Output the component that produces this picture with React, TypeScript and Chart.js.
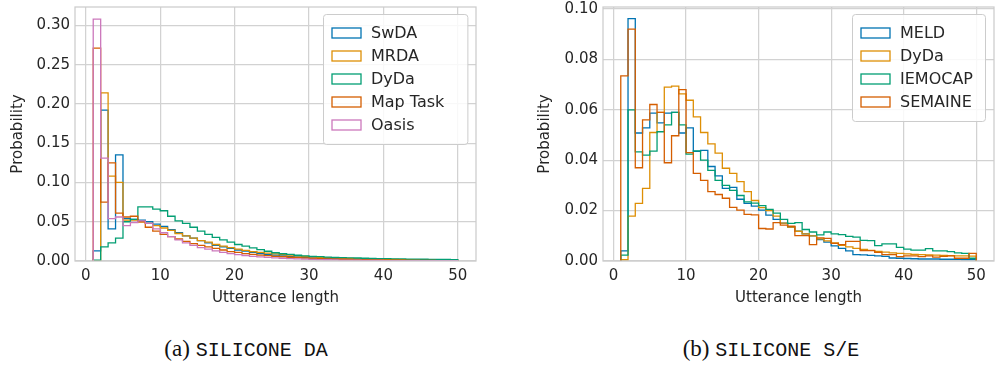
import React, { useEffect, useRef } from "react";
import { Chart, registerables } from "chart.js";

Chart.register(...registerables);

// ---------- data ----------
const binStarts = [
  1, 2, 3, 4, 5, 6, 7, 8, 9, 10, 11, 12, 13, 14, 15, 16, 17, 18, 19, 20, 21, 22, 23, 24, 25,
  26, 27, 28, 29, 30, 31, 32, 33, 34, 35, 36, 37, 38, 39, 40, 41, 42, 43, 44, 45, 46, 47, 48, 49,
];
const binWidth = 1;

const xTicks = [0, 10, 20, 30, 40, 50];

// (a) SILICONE DA
const daLabels = ["SwDA", "MRDA", "DyDa", "Map Task", "Oasis"];
const swda = [
  0.013, 0.192, 0.041, 0.135, 0.054, 0.053, 0.052, 0.05, 0.047, 0.044, 0.04, 0.036, 0.032, 0.029,
  0.026, 0.023, 0.02, 0.018, 0.016, 0.014, 0.0125, 0.011, 0.0095, 0.0085, 0.0075, 0.0066, 0.0058,
  0.0052, 0.0046, 0.0041, 0.0037, 0.0033, 0.003, 0.0027, 0.0024, 0.0022, 0.002, 0.0018, 0.0016,
  0.0015, 0.0014, 0.0013, 0.0012, 0.0011, 0.001, 0.0009, 0.0008, 0.0008, 0.0007,
];
const mrda = [
  0.0005, 0.214, 0.108, 0.1, 0.052, 0.052, 0.05, 0.048, 0.045, 0.042, 0.039, 0.035, 0.032, 0.029,
  0.026, 0.024, 0.021, 0.019, 0.017, 0.015, 0.0135, 0.012, 0.011, 0.01, 0.009, 0.0082, 0.0074,
  0.0066, 0.006, 0.0054, 0.0048, 0.0044, 0.004, 0.0036, 0.0033, 0.003, 0.0027, 0.0025, 0.0023,
  0.0021, 0.0019, 0.0018, 0.0016, 0.0015, 0.0014, 0.0013, 0.0012, 0.0011, 0.001,
];
const dydaDA = [
  0.001, 0.018, 0.023, 0.029, 0.05, 0.053, 0.069, 0.069, 0.066, 0.064, 0.057, 0.051, 0.048, 0.043,
  0.038, 0.034, 0.03, 0.027, 0.024, 0.021, 0.019, 0.0167, 0.0145, 0.0124, 0.0105, 0.0092, 0.0085,
  0.0073, 0.0065, 0.006, 0.0055, 0.005, 0.0047, 0.0043, 0.004, 0.0038, 0.0035, 0.0032, 0.003,
  0.003, 0.0028, 0.0027, 0.0025, 0.0024, 0.0022, 0.0021, 0.002, 0.0019, 0.0018,
];
const mapTask = [
  0.271, 0.075, 0.125, 0.061, 0.056, 0.057, 0.05, 0.043, 0.038, 0.034, 0.031, 0.028, 0.025, 0.022,
  0.02, 0.018, 0.016, 0.014, 0.012, 0.011, 0.0095, 0.0085, 0.0076, 0.0068, 0.006, 0.0054, 0.0048,
  0.0043, 0.0038, 0.0034, 0.003, 0.0027, 0.0024, 0.0022, 0.002, 0.0018, 0.0016, 0.0014, 0.0013,
  0.0012, 0.0011, 0.001, 0.0009, 0.0008, 0.0008, 0.0007, 0.0006, 0.0006, 0.0005,
];
const oasis = [
  0.308, 0.131, 0.054, 0.056, 0.045, 0.049, 0.051, 0.048, 0.041, 0.036, 0.031, 0.027, 0.023, 0.02,
  0.017, 0.015, 0.013, 0.011, 0.0095, 0.008, 0.007, 0.006, 0.0052, 0.0045, 0.004, 0.0035, 0.003,
  0.0026, 0.0023, 0.002, 0.0018, 0.0016, 0.0014, 0.0012, 0.0011, 0.001, 0.0009, 0.0008, 0.0007,
  0.0006, 0.0006, 0.0005, 0.0005, 0.0004, 0.0004, 0.0004, 0.0003, 0.0003, 0.0003,
];
const daTicksY = [0, 0.05, 0.1, 0.15, 0.2, 0.25, 0.3];

// (b) SILICONE S/E
const seLabels = ["MELD", "DyDa", "IEMOCAP", "SEMAINE"];
const meld = [
  0.004, 0.0962, 0.0508, 0.0528, 0.0587, 0.0548, 0.0587, 0.059, 0.0508, 0.0528, 0.0435, 0.0439,
  0.0375, 0.0338, 0.0288, 0.0292, 0.0245, 0.0229, 0.0218, 0.0202, 0.0182, 0.0165, 0.015, 0.0135,
  0.0118, 0.0108, 0.01, 0.0085, 0.0075, 0.006, 0.005, 0.004, 0.0025, 0.0024, 0.0022, 0.002, 0.0018,
  0.0012, 0.0011, 0.001, 0.0009, 0.0008, 0.0008, 0.0008, 0.0007, 0.0007, 0.0007, 0.0006, 0.0006,
];
const dydaSE = [
  0.0005, 0.0178, 0.0229, 0.0288, 0.051, 0.059, 0.069, 0.0694, 0.0663, 0.0638, 0.0572, 0.051,
  0.0465, 0.0428, 0.0368, 0.0348, 0.0315, 0.0275, 0.024, 0.0212, 0.02, 0.0178, 0.015, 0.0135,
  0.0118, 0.0108, 0.01, 0.0088, 0.008, 0.0072, 0.0062, 0.0056, 0.005, 0.0046, 0.0042, 0.0038,
  0.0035, 0.0032, 0.003, 0.0028, 0.0026, 0.0025, 0.0024, 0.0023, 0.0022, 0.0021, 0.002, 0.002,
  0.0019,
];
const iemocap = [
  0.0023, 0.06, 0.0433, 0.042, 0.0436, 0.0513, 0.054, 0.059, 0.054, 0.0424, 0.0437, 0.04, 0.036,
  0.032, 0.03, 0.028, 0.026, 0.0235, 0.023, 0.022, 0.0205, 0.019, 0.0165, 0.0149, 0.0152, 0.0125,
  0.0115, 0.0104, 0.0115, 0.0108, 0.0105, 0.0098, 0.0095, 0.0082, 0.0081, 0.0061, 0.0068, 0.0068,
  0.0054, 0.0047, 0.0043, 0.0043, 0.0049, 0.004, 0.004, 0.0037, 0.0032, 0.003, 0.0011,
];
const semaine = [
  0.0735, 0.092, 0.037, 0.056, 0.0621, 0.059, 0.039, 0.0497, 0.068, 0.043, 0.0348, 0.032, 0.0275,
  0.0264, 0.0249, 0.0213, 0.0202, 0.0185, 0.0183, 0.0129, 0.0127, 0.0152, 0.0142, 0.0138, 0.0101,
  0.0101, 0.0065, 0.0092, 0.009, 0.007, 0.0065, 0.0078, 0.0078, 0.0041, 0.0041, 0.0034, 0.0025,
  0.0025, 0.0017, 0.002, 0.002, 0.0017, 0.002, 0.0015, 0.0018, 0.002, 0.0011, 0.0011, 0.003,
];
const seTicksY = [0, 0.02, 0.04, 0.06, 0.08, 0.1];

const palette = ["#0173b2", "#de8f05", "#029e73", "#d55e00", "#cc78bc"];

// ---------- helpers ----------
const FONT = '"DejaVu Sans", "Liberation Sans", sans-serif';
const TEXT = "#262626";
const GRID = "#d2d2d2";
const FS = 15;
const LEGEND_FS = 16;

function stepPoints(values: number[]) {
  const pts = [{ x: binStarts[0], y: 0 }];
  values.forEach((v, i) => pts.push({ x: binStarts[i], y: v }));
  const end = binStarts[binStarts.length - 1] + binWidth;
  pts.push({ x: end, y: values[values.length - 1] });
  pts.push({ x: end, y: 0 });
  return pts;
}

const framePlugin = {
  id: "frame",
  afterDatasetsDraw(chart: any) {
    const { ctx, chartArea } = chart;
    const { left, top, right, bottom } = chartArea;
    ctx.save();
    ctx.strokeStyle = "#cccccc";
    ctx.lineWidth = 1.25;
    ctx.strokeRect(left, top, right - left, bottom - top);
    ctx.restore();
  },
};

const boxLegendPlugin = {
  id: "boxLegend",
  afterDraw(chart: any, _args: any, opts: any) {
    const { ctx, chartArea } = chart;
    const datasets = chart.data.datasets;
    ctx.save();
    ctx.font = `${LEGEND_FS}px ${FONT}`;
    const textW = Math.max(...datasets.map((d: any) => ctx.measureText(d.label).width));
    const padX = 9;
    const patchW = 29;
    const patchH = 10;
    const gap = 10;
    const rowH = 23;
    const padY = 7.5;
    const w = padX + patchW + gap + textW + 12 + (opts.extraWidth ?? 0);
    const h = padY * 2 + rowH * datasets.length;
    const x = Math.round(chartArea.right - (opts.marginRight ?? 9) - w);
    const y = Math.round(chartArea.top + 7);
    ctx.fillStyle = "rgba(255,255,255,0.85)";
    ctx.strokeStyle = "#cccccc";
    ctx.lineWidth = 1;
    ctx.beginPath();
    if (ctx.roundRect) ctx.roundRect(x + 0.5, y + 0.5, w, h, 3);
    else ctx.rect(x + 0.5, y + 0.5, w, h);
    ctx.fill();
    ctx.stroke();
    datasets.forEach((d: any, i: number) => {
      const cy = y + padY + rowH * i + rowH / 2;
      ctx.strokeStyle = d.borderColor;
      ctx.lineWidth = 1.3;
      ctx.strokeRect(x + padX, cy - patchH / 2, patchW, patchH);
      ctx.fillStyle = TEXT;
      ctx.textBaseline = "middle";
      ctx.textAlign = "left";
      ctx.fillText(d.label, x + padX + patchW + gap, cy + 1);
    });
    ctx.restore();
  },
};

type HistProps = {
  left: number;
  width: number;
  height: number;
  yAxisWidth: number;
  padRight: number;
  legendExtra: number;
  labels: string[];
  series: number[][];
  yMax: number;
  yTicks: number[];
};

function HistChart(props: HistProps) {
  const ref = useRef<HTMLCanvasElement | null>(null);
  useEffect(() => {
    const { labels, series, yMax, yTicks, yAxisWidth, padRight, legendExtra } = props;
    const chart = new Chart(ref.current as HTMLCanvasElement, {
      type: "line",
      data: {
        datasets: labels.map((lab, i) => ({
          label: lab,
          data: stepPoints(series[i]),
          borderColor: palette[i],
          backgroundColor: palette[i],
          borderWidth: 1.3,
          pointRadius: 0,
          pointHoverRadius: 0,
          stepped: "before",
          fill: false,
          tension: 0,
          order: labels.length - i,
        })),
      },
      options: {
        animation: false,
        responsive: false,
        devicePixelRatio: 1,
        events: [],
        layout: { padding: { top: 7, right: padRight, bottom: 0, left: 0 } },
        plugins: {
          legend: { display: false },
          tooltip: { enabled: false },
          boxLegend: { marginRight: 9, extraWidth: legendExtra },
        } as any,
        scales: {
          x: {
            type: "linear",
            min: -1.45,
            max: 52.45,
            afterFit: (s: any) => {
              s.height = 49;
              s.paddingLeft = 0;
              s.paddingRight = 0;
            },
            afterBuildTicks: (s: any) => {
              s.ticks = xTicks.map((v) => ({ value: v }));
            },
            ticks: {
              color: TEXT,
              font: { family: FONT, size: FS },
              padding: 6,
              maxRotation: 0,
              callback: (v: any) => String(v),
            },
            grid: { color: GRID, lineWidth: 1.25, drawTicks: false },
            border: { display: false },
            title: {
              display: true,
              text: "Utterance length",
              color: TEXT,
              font: { family: FONT, size: FS },
              padding: { top: 0, bottom: 3 },
            },
          },
          y: {
            type: "linear",
            min: 0,
            max: yMax,
            afterFit: (s: any) => {
              s.width = yAxisWidth;
              s.paddingTop = 0;
              s.paddingBottom = 0;
            },
            afterBuildTicks: (s: any) => {
              s.ticks = yTicks.map((v) => ({ value: v }));
            },
            ticks: {
              color: TEXT,
              font: { family: FONT, size: FS },
              padding: 5,
              callback: (v: any) => Number(v).toFixed(2),
            },
            grid: { color: GRID, lineWidth: 1.25, drawTicks: false },
            border: { display: false },
            title: {
              display: true,
              text: "Probability",
              color: TEXT,
              font: { family: FONT, size: FS },
              padding: { top: 9, bottom: 0 },
            },
          },
        },
      } as any,
      plugins: [framePlugin, boxLegendPlugin],
    });
    return () => chart.destroy();
  }, []);
  return (
    <canvas
      ref={ref}
      width={props.width}
      height={props.height}
      style={{ position: "absolute", left: props.left, top: 0, width: props.width, height: props.height }}
    />
  );
}

const captionSerif = '"Liberation Serif", "DejaVu Serif", serif';
const captionMono = '"Liberation Mono", "DejaVu Sans Mono", monospace';

function Caption({ center, tag, name }: { center: number; tag: string; name: string }) {
  return (
    <div
      style={{
        position: "absolute",
        left: center - 200,
        width: 400,
        top: 335,
        textAlign: "center",
        fontFamily: captionSerif,
        fontSize: 23,
        lineHeight: "28px",
        color: "#111",
        whiteSpace: "pre",
      }}
    >
      {tag + " "}
      <span style={{ fontFamily: captionMono, fontSize: 20 }}>{name}</span>
    </div>
  );
}

export default function App() {
  return (
    <div
      style={{
        position: "absolute",
        left: 0,
        top: 0,
        width: 995,
        height: 367,
        background: "#ffffff",
        overflow: "hidden",
      }}
    >
      <HistChart
        left={0}
        width={485}
        height={310}
        yAxisWidth={75}
        padRight={9}
        legendExtra={11}
        labels={daLabels}
        series={[swda, mrda, dydaDA, mapTask, oasis]}
        yMax={0.3234}
        yTicks={daTicksY}
      />
      <HistChart
        left={527}
        width={468}
        height={310}
        yAxisWidth={76}
        padRight={1}
        legendExtra={0}
        labels={seLabels}
        series={[meld, dydaSE, iemocap, semaine]}
        yMax={0.1008}
        yTicks={seTicksY}
      />
      <Caption center={246} tag="(a)" name="SILICONE DA" />
      <Caption center={771} tag="(b)" name="SILICONE S/E" />
    </div>
  );
}
